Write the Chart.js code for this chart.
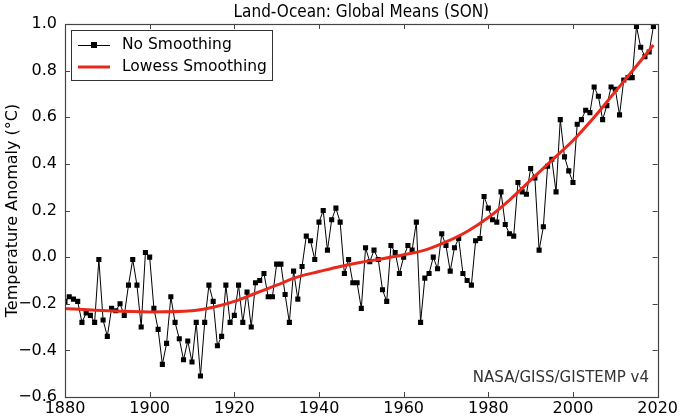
<!DOCTYPE html>
<html>
<head>
<meta charset="utf-8">
<script src="https://cdn.jsdelivr.net/npm/chart.js@4.4.0/dist/chart.umd.min.js"></script>
<style>
  html, body { margin: 0; padding: 0; background: #fff; }
</style>
</head>
<body>
<canvas id="myChart" width="680" height="416"></canvas>
<script>
// SON anomalies (deg C), one per year starting at firstYear
const firstYear = 1880;
const anomaly = [
  -0.19, -0.17, -0.18, -0.19, -0.28, -0.24, -0.25, -0.28, -0.01, -0.27,
  -0.34, -0.22, -0.23, -0.20, -0.25, -0.12, -0.01, -0.12, -0.30, 0.02,
  0.00, -0.22, -0.31, -0.46, -0.37, -0.17, -0.28, -0.35, -0.44, -0.36,
  -0.45, -0.28, -0.51, -0.28, -0.12, -0.19, -0.38, -0.34, -0.12, -0.28,
  -0.25, -0.12, -0.28, -0.15, -0.30, -0.11, -0.10, -0.07, -0.17, -0.17,
  -0.03, -0.03, -0.16, -0.28, -0.06, -0.18, -0.04, 0.09, 0.07, -0.01,
  0.15, 0.20, 0.03, 0.16, 0.21, 0.15, -0.07, -0.01, -0.11, -0.11,
  -0.22, 0.04, -0.02, 0.03, -0.01, -0.14, -0.19, 0.05, 0.02, -0.07,
  0.00, 0.05, 0.03, 0.15, -0.28, -0.09, -0.07, 0.00, -0.05, 0.10,
  0.05, -0.06, 0.04, 0.08, -0.07, -0.10, -0.12, 0.07, 0.08, 0.26,
  0.21, 0.16, 0.15, 0.28, 0.14, 0.10, 0.09, 0.32, 0.28, 0.27,
  0.38, 0.34, 0.03, 0.13, 0.39, 0.42, 0.28, 0.59, 0.43, 0.37,
  0.32, 0.57, 0.59, 0.63, 0.62, 0.73, 0.69, 0.59, 0.65, 0.73,
  0.72, 0.61, 0.76, 0.77, 0.77, 0.99, 0.90, 0.86, 0.88, 0.99
];

// lowess curve, read at a few years
const lowessYears = [1880, 1890, 1900, 1910, 1915, 1920, 1925, 1930, 1935, 1940, 1945, 1950, 1955,
  1960, 1965, 1970, 1975, 1980, 1985, 1990, 1995, 2000, 2005, 2010, 2015, 2019];
const lowessValues = [-0.22, -0.23, -0.235, -0.23, -0.215, -0.19, -0.155, -0.12, -0.085, -0.062, -0.04, -0.022, -0.007,
  0.01, 0.03, 0.065, 0.11, 0.17, 0.245, 0.33, 0.415, 0.50, 0.60, 0.71, 0.82, 0.91];

const xTicks = [1880, 1900, 1920, 1940, 1960, 1980, 2000, 2020];
const yTicks = [-0.6, -0.4, -0.2, 0.0, 0.2, 0.4, 0.6, 0.8, 1.0];

const FONT = "'DejaVu Sans', 'Liberation Sans', sans-serif";
const TITLE_FONT = "'DejaVu Sans Condensed', 'DejaVu Sans', sans-serif";

const rawPoints = anomaly.map((v, i) => ({ x: firstYear + i, y: v }));
const lowessPoints = lowessYears.map((yr, i) => ({ x: yr, y: lowessValues[i] }));

// matplotlib-ish frame with inward ticks, legend and credit line
const framePlugin = {
  id: 'frame',
  afterDatasetsDraw(chart) {
    const ctx = chart.ctx;
    const a = chart.chartArea;
    const xs = chart.scales.x, ys = chart.scales.y;
    const tl = 5;
    ctx.save();
    ctx.strokeStyle = '#444';
    ctx.lineWidth = 1;
    ctx.beginPath();
    xTicks.forEach(t => {
      const px = Math.round(xs.getPixelForValue(t)) + 0.5;
      ctx.moveTo(px, a.bottom); ctx.lineTo(px, a.bottom - tl);
      ctx.moveTo(px, a.top); ctx.lineTo(px, a.top + tl);
    });
    yTicks.forEach(t => {
      const py = Math.round(ys.getPixelForValue(t)) + 0.5;
      ctx.moveTo(a.left, py); ctx.lineTo(a.left + tl, py);
      ctx.moveTo(a.right, py); ctx.lineTo(a.right - tl, py);
    });
    ctx.stroke();
    ctx.lineWidth = 1.2;
    ctx.strokeRect(Math.round(a.left) + 0.5, Math.round(a.top) + 0.5,
      Math.round(a.right - a.left), Math.round(a.bottom - a.top));

    // legend
    const lx = 71, ly = 30, lw = 201, lh = 50;
    ctx.fillStyle = '#fff';
    ctx.fillRect(lx, ly, lw, lh);
    ctx.strokeStyle = '#333';
    ctx.lineWidth = 1;
    ctx.strokeRect(lx + 0.5, ly + 0.5, lw, lh);

    ctx.strokeStyle = '#000';
    ctx.lineWidth = 1;
    ctx.beginPath();
    ctx.moveTo(78, 45.5); ctx.lineTo(110, 45.5);
    ctx.stroke();
    ctx.fillStyle = '#000';
    ctx.fillRect(91, 42, 6, 6);

    ctx.strokeStyle = '#e8291c';
    ctx.lineWidth = 3;
    ctx.beginPath();
    ctx.moveTo(78, 67); ctx.lineTo(110, 67);
    ctx.stroke();

    ctx.fillStyle = '#000';
    ctx.font = '15.5px ' + FONT;
    ctx.textBaseline = 'middle';
    ctx.textAlign = 'left';
    ctx.fillText('No Smoothing', 122, 45);
    ctx.fillText('Lowess Smoothing', 122, 67);

    ctx.fillStyle = '#333';
    ctx.font = '15px ' + FONT;
    ctx.textAlign = 'right';
    ctx.fillText('NASA/GISS/GISTEMP v4', 649, 378);
    ctx.restore();
  }
};

const ctx = document.getElementById('myChart').getContext('2d');
const myChart = new Chart(ctx, {
  type: 'line',
  data: {
    datasets: [
      {
        label: 'Lowess Smoothing',
        data: lowessPoints,
        borderColor: '#e8291c',
        borderWidth: 3,
        pointRadius: 0,
        cubicInterpolationMode: 'monotone',
        fill: false,
        order: 0
      },
      {
        label: 'No Smoothing',
        data: rawPoints,
        borderColor: '#000',
        borderWidth: 1,
        pointStyle: 'rect',
        pointRadius: 3.6,
        pointBackgroundColor: '#000',
        pointBorderWidth: 0,
        tension: 0,
        fill: false,
        order: 1
      }
    ]
  },
  options: {
    responsive: false,
    animation: false,
    devicePixelRatio: 1,
    layout: { padding: { left: 0, right: 21, top: 0, bottom: 0 } },
    plugins: {
      legend: { display: false },
      tooltip: { enabled: false },
      title: {
        display: true,
        fullSize: false,
        text: 'Land-Ocean: Global Means (SON)',
        color: '#000',
        font: { family: TITLE_FONT, size: 17, weight: 'normal', lineHeight: 1.2 },
        padding: { top: 2, bottom: 1.6 }
      }
    },
    scales: {
      x: {
        type: 'linear',
        min: 1880,
        max: 2020,
        grid: { display: false, drawTicks: false },
        border: { display: false },
        afterBuildTicks(scale) { scale.ticks = xTicks.map(v => ({ value: v })); },
        afterFit(scale) { scale.height = 19; },
        ticks: {
          color: '#000',
          padding: 2,
          maxRotation: 0,
          font: { family: FONT, size: 16 },
          callback: v => String(v)
        }
      },
      y: {
        min: -0.6,
        max: 1.0,
        grid: { display: false, drawTicks: false },
        border: { display: false },
        afterBuildTicks(scale) { scale.ticks = yTicks.map(v => ({ value: v })); },
        afterFit(scale) { scale.width = 65; },
        ticks: {
          color: '#000',
          padding: 8,
          font: { family: FONT, size: 16 },
          callback: v => v.toFixed(1).replace('-', '\u2212')
        },
        title: {
          display: true,
          text: 'Temperature Anomaly (\u00B0C)',
          color: '#000',
          font: { family: FONT, size: 16 },
          padding: { top: 3, bottom: 0 }
        }
      }
    }
  },
  plugins: [framePlugin]
});
</script>
</body>
</html>
